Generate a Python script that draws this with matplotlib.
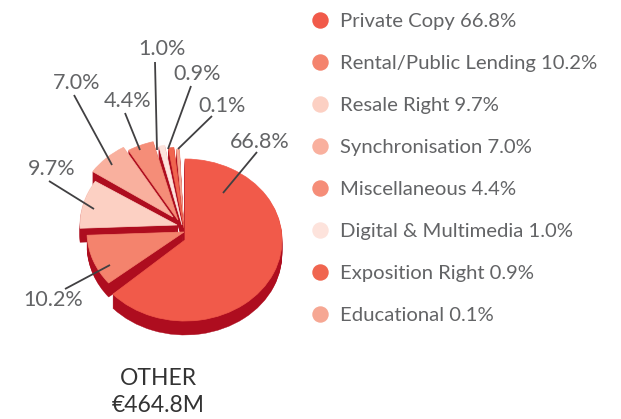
import matplotlib
matplotlib.use('Agg')
import matplotlib.pyplot as plt
from matplotlib.patches import Wedge
from matplotlib.transforms import Affine2D

names = ['Private Copy', 'Rental/Public Lending', 'Resale Right', 'Synchronisation',
         'Miscellaneous', 'Digital & Multimedia', 'Exposition Right', 'Educational']
shares = [66.8, 10.2, 9.7, 7.0, 4.4, 1.0, 0.9, 0.1]
total_label = ['OTHER', '€464.8M']

colors = ['#F15A4A', '#F4836D', '#FCD0C3', '#F9B09E', '#F58D78', '#FDE3DC', '#F0654F', '#F6A793']
dark = '#AE0D1F'
grey = '#636466'

# layout is in picture pixels
rx, ry = 97, 81
depth = 14
# where each wedge tip sits
tips = [(185, 240), (184, 232), (177, 225), (173, 217), (178, 220), (182, 225), (184, 228), (184, 230)]
# angle left open after each slice
gaps = [3, 0, 1.5, 0, 1, 1, 1.5, 2]
# leaders: point on slice, point near label, label centre
leaders = [((223, 193), (257, 152), (260, 141)),
           ((110, 265), (65, 289), (53, 299)),
           ((94, 209), (49, 181), (52, 168)),
           ((112, 165), (74, 95), (77, 82)),
           ((140, 150), (125, 113), (128, 100)),
           ((157, 150), (155, 62), (162, 48)),
           ((168, 149), (191, 86), (197, 73)),
           ((178, 149), (212, 116), (222, 105))]

plt.rcParams['font.family'] = ['Lato', 'DejaVu Sans']

fig = plt.figure(figsize=(6.21, 4.19), dpi=100)
ax = fig.add_axes([0, 0, 1, 1])
ax.set_xlim(0, 621)
ax.set_ylim(419, 0)
ax.axis('off')

# the picture squeezes the big slice a bit, tiniest slice still needs to show
sweeps = [s * 3.6 for s in shares]
sweeps[0] = sweeps[0] * 0.948
sweeps = [max(s, 1.8) for s in sweeps]

starts = []
a = 90
for s, g in zip(sweeps, gaps):
    starts.append(a - s)
    a = a - s - g


def wedge(i, dy, color, **kw):
    tr = Affine2D().scale(rx, -ry).translate(tips[i][0], tips[i][1] + dy) + ax.transData
    w = Wedge((0, 0), 1, starts[i], starts[i] + sweeps[i], facecolor=color, transform=tr, **kw)
    ax.add_patch(w)


# back slices first, main one last
for i in list(range(len(shares) - 1, 0, -1)) + [0]:
    for d in range(depth, 0, -1):
        wedge(i, d, dark, linewidth=0.3, edgecolor=dark)
    wedge(i, 0, colors[i], linewidth=0.5, edgecolor=colors[i])

for i, (p0, p1, c) in enumerate(leaders):
    ax.plot([p0[0], p1[0]], [p0[1], p1[1]], color='#414042', lw=1.3, solid_capstyle='butt')
    ax.text(c[0], c[1] + 1, f'{shares[i]:.1f}%', color=grey, fontsize=15.5, ha='center', va='center')

for i, n in enumerate(names):
    y = 20 + i * 42
    ax.scatter([320], [y], s=140, color=colors[i], linewidths=0)
    ax.text(340, y + 1, f'{n} {shares[i]:.1f}%', color=grey, fontsize=14.6, ha='left', va='center')

ax.text(158, 378, total_label[0], color='#333333', fontsize=16.5, ha='center', va='center')
ax.text(158, 405, total_label[1], color='#333333', fontsize=16.5, ha='center', va='center')

fig.savefig('out.png', dpi=100)
